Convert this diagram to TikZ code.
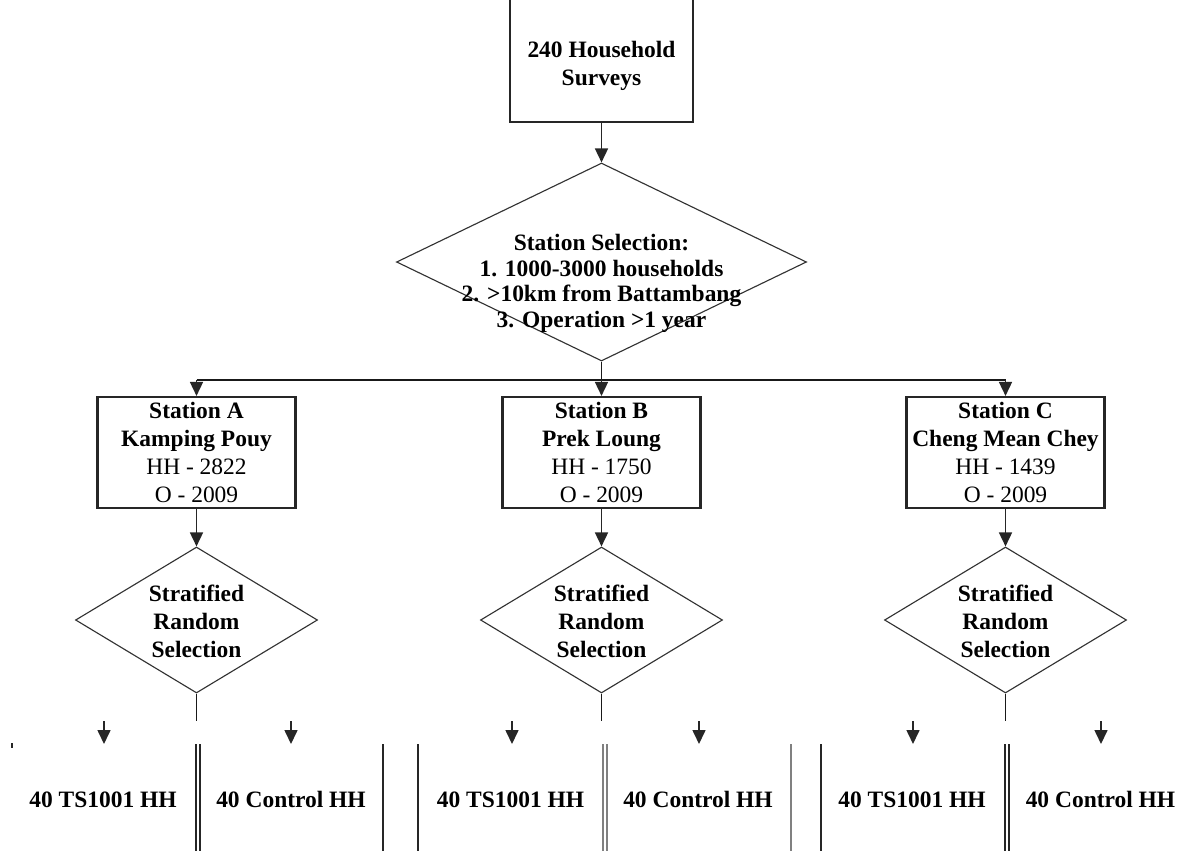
\documentclass[tikz,border=0pt]{standalone}
\usepackage{fontspec}
\setmainfont{Liberation Serif}
\usetikzlibrary{shapes.geometric,arrows.meta}
\begin{document}
\begin{tikzpicture}[x=0.75pt,y=-0.75pt,
  boxline/.style={draw=black!85, line width=1.6pt, rectangle, inner sep=0pt},
  dia/.style={diamond, draw=black!80, line width=0.85pt, inner sep=0pt},
  txt/.style={font=\fontsize{17.6}{21}\selectfont\bfseries, align=center, inner sep=0pt},
  dtxt/.style={font=\fontsize{17.6}{19.3}\selectfont\bfseries, align=center, inner sep=0pt},
  arr/.style={draw=black!85, line width=1.2pt, -{Triangle[width=9.75pt,length=10.5pt]}},
  conn/.style={draw=black!90, line width=1.4pt},
  dark/.style={draw=black!85, line width=1.6pt},
  grey/.style={draw=black!50, line width=1.2pt},
  stbox/.style={boxline, minimum width=148.5pt, minimum height=83.25pt, font=\fontsize{17.6}{21}\selectfont, align=center},
  smalldia/.style={dia, minimum width=181.5pt, minimum height=109.5pt},
]
\useasboundingbox (0,0) rectangle (1189,850);
\clip (0,0) rectangle (1189,850);

% top box (its top edge lies above the picture)
\node[boxline, minimum width=137.25pt, minimum height=135pt] (topbox) at (601.5,32) {};
\node[txt] (toptxt) at (601.5,66) {240 Household\\Surveys};

% main diamond
\node[dia, minimum width=307.5pt, minimum height=148.5pt] (sel) at (601.5,262) {};
\node[dtxt] (seltxt) at (601.5,283.5) {Station Selection:\\1. 1000-3000 households\\2. >10km from Battambang\\3. Operation >1 year};

\draw[arr] (topbox.south) -- (sel.north);

% stations
\node[stbox] (sa) at (196.5,452.5) {\textbf{Station A}\\\textbf{Kamping Pouy}\\HH - 2822\\O - 2009};
\node[stbox] (sb) at (601.5,452.5) {\textbf{Station B}\\\textbf{Prek Loung}\\HH - 1750\\O - 2009};
\node[stbox] (sc) at (1005.5,452.5) {\textbf{Station C}\\\textbf{Cheng Mean Chey}\\HH - 1439\\O - 2009};

\coordinate (bus) at (601.5,380);
\draw[conn] (sel.south) -- (bus);
\draw[conn] (bus -| sa.north) -- (bus -| sc.north);
\draw[arr] (bus -| sa.north) -- (sa.north);
\draw[arr] (bus) -- (sb.north);
\draw[arr] (bus -| sc.north) -- (sc.north);

% stratified diamonds
\foreach \n/\x in {a/196.5,b/601.5,c/1005.5}{
  \node[smalldia] (d\n) at (\x,620) {};
  \node[txt] (d\n txt) at (\x,621) {Stratified\\Random\\Selection};
  \coordinate (stem\n) at (\x,721);
}
\draw[arr] (sa.south) -- (da.north);
\draw[arr] (sb.south) -- (db.north);
\draw[arr] (sc.south) -- (dc.north);
\draw[conn] (da.south) -- (stema);
\draw[conn] (db.south) -- (stemb);
\draw[conn] (dc.south) -- (stemc);

% floating arrows
\foreach \n/\x in {a1/104,a2/291,b1/512,b2/699,c1/913,c2/1101}{
  \coordinate (\n s) at (\x,721);
  \coordinate (\n e) at (\x,744);
  \draw[arr] (\n s) -- (\n e);
}

% bottom groups
\node[txt, anchor=base] (ta1) at (103,807.5) {40 TS1001 HH};
\node[txt, anchor=base] (ta2) at (291,807.5) {40 Control HH};
\node[txt, anchor=base] (tb1) at (510.5,807.5) {40 TS1001 HH};
\node[txt, anchor=base] (tb2) at (698,807.5) {40 Control HH};
\node[txt, anchor=base] (tc1) at (912,807.5) {40 TS1001 HH};
\node[txt, anchor=base] (tc2) at (1100.5,807.5) {40 Control HH};

\draw[dark] (12,743) -- (12,748);
\draw[dark] (196,744) -- (196,852);
\draw[dark] (200,744) -- (200,852);
\draw[dark] (383,744) -- (383,852);
\draw[dark] (418,744) -- (418,852);
\draw[grey] (603,744) -- (603,852);
\draw[grey] (607,744) -- (607,852);
\draw[grey, line width=0.9pt] (791,744) -- (791,852);
\draw[dark] (821,744) -- (821,852);
\draw[dark] (1005,744) -- (1005,852);
\draw[dark] (1009,744) -- (1009,852);
\end{tikzpicture}
\end{document}
